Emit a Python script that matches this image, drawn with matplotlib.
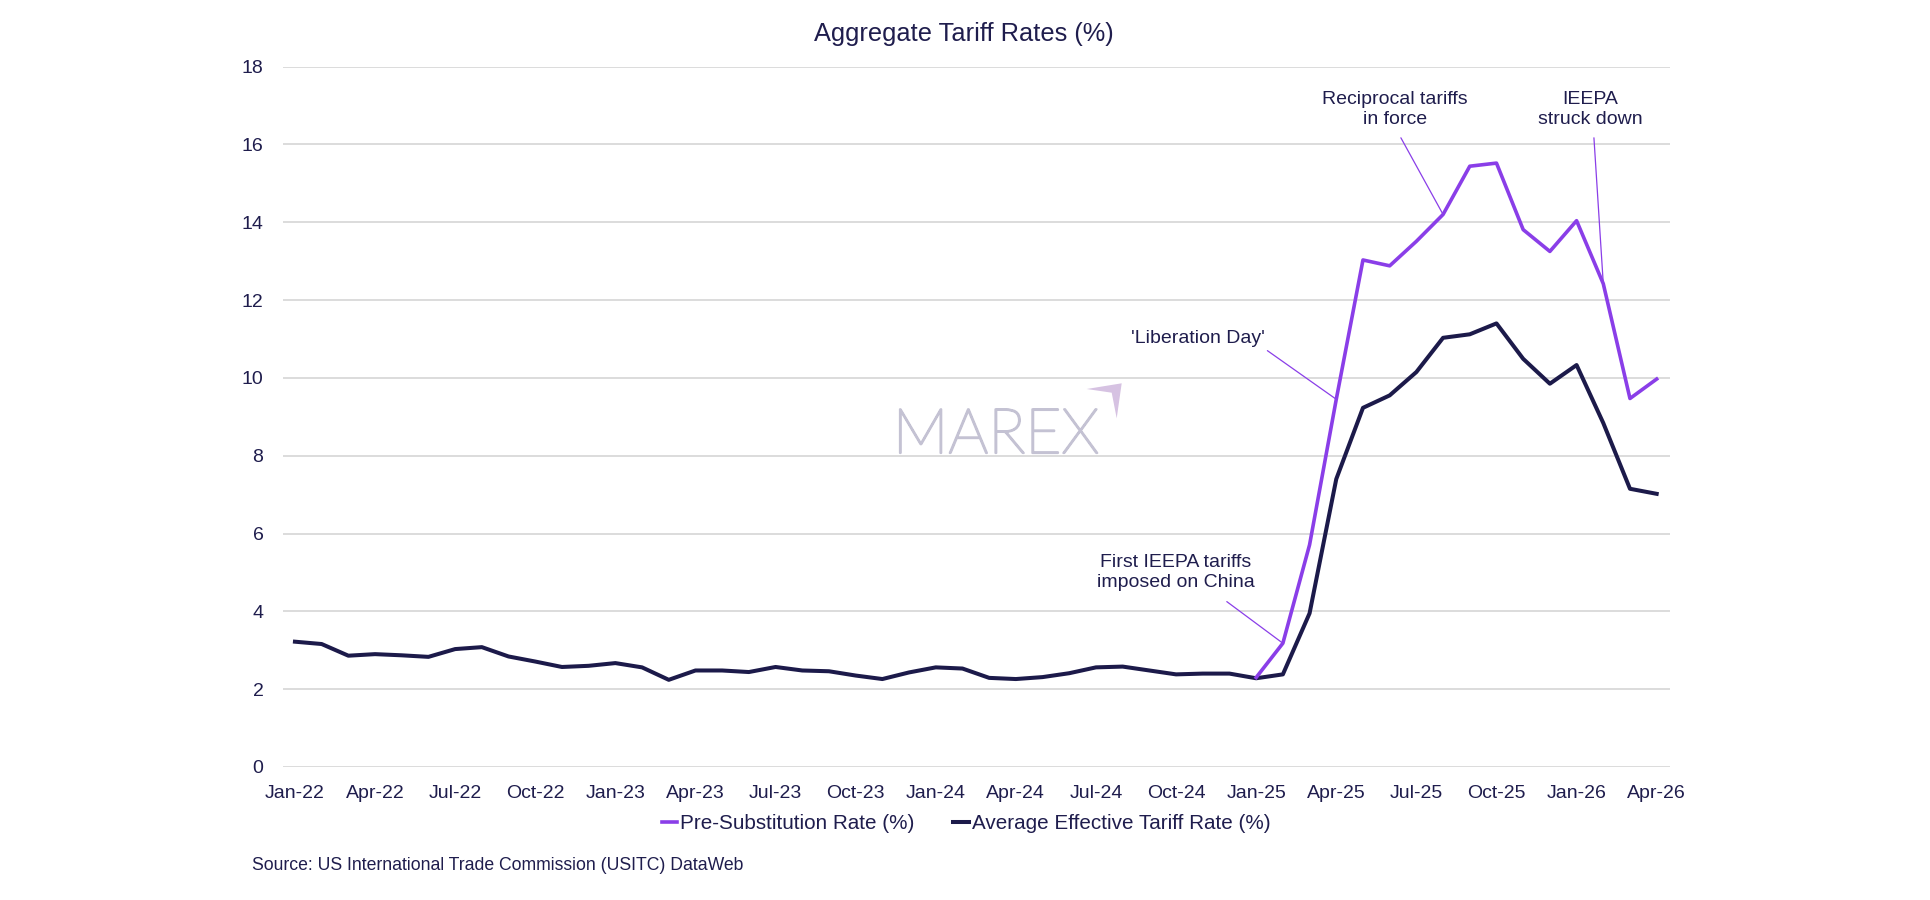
import matplotlib.pyplot as plt
import matplotlib.patheffects as pe
from matplotlib.patches import Polygon

plt.rcParams['font.family'] = ['Liberation Sans', 'DejaVu Sans']

# Monthly data, Jan-22 .. Apr-26
tick_labels = ['Jan-22', 'Apr-22', 'Jul-22', 'Oct-22', 'Jan-23', 'Apr-23', 'Jul-23', 'Oct-23',
               'Jan-24', 'Apr-24', 'Jul-24', 'Oct-24', 'Jan-25', 'Apr-25', 'Jul-25', 'Oct-25',
               'Jan-26', 'Apr-26']

effective_rate = [3.22, 3.16, 2.86, 2.90, 2.87, 2.83, 3.03, 3.08, 2.84, 2.71, 2.57, 2.60,
                  2.67, 2.56, 2.24, 2.48, 2.48, 2.44, 2.57, 2.48, 2.46, 2.35, 2.26, 2.43,
                  2.56, 2.53, 2.29, 2.26, 2.31, 2.41, 2.56, 2.58, 2.48, 2.38, 2.40, 2.40,
                  2.28, 2.38, 3.95, 7.40, 9.23, 9.55, 10.15, 11.03, 11.12, 11.40, 10.49, 9.85,
                  10.33, 8.84, 7.15, 7.02]

# Pre-substitution series starts in Jan-25
pre_sub_start = 36
pre_sub_rate = [2.30, 3.18, 5.71, 9.45, 13.03, 12.88, 13.51, 14.20, 15.44, 15.52, 13.81, 13.25,
                14.04, 12.42, 9.47, 9.97]

months = list(range(len(effective_rate)))
pre_months = months[pre_sub_start:pre_sub_start + len(pre_sub_rate)]

navy = '#1c1a4a'
purple = '#8a3ee8'
text_col = '#1f1d4d'

fig = plt.figure(figsize=(19.3, 9), dpi=100)
ax = fig.add_axes([0.1466, 0.1478, 0.7187, 0.7782])

ax.plot(pre_months, pre_sub_rate, color=purple, lw=2.6, label='Pre-Substitution Rate (%)', zorder=3)
ax.plot(months, effective_rate, color=navy, lw=2.9, label='Average Effective Tariff Rate (%)', zorder=2)

ax.set_ylim(0, 18)
ax.set_yticks(range(0, 19, 2))
ax.set_xlim(-0.45, 51.5)
ax.set_xticks(months[::3])
ax.set_xticklabels(tick_labels)
ax.tick_params(length=0, labelsize=14, colors=text_col)
ax.tick_params(axis='x', pad=13)
ax.tick_params(axis='y', pad=14)
ax.yaxis.grid(True, color='#d9d9d9', lw=1.3)
ax.set_axisbelow(True)
for s in ax.spines.values():
    s.set_visible(False)

# annotations: text at (tx, ty), connector from (lx, ly) to a point of the purple line
def note(txt, tx, ty, lx, ly, idx):
    i = idx - pre_sub_start
    ax.text(tx, ty, txt, ha='center', va='center', fontsize=14, color=text_col, linespacing=1.21)
    ax.annotate('', xy=(pre_months[i], pre_sub_rate[i]), xytext=(lx, ly),
                arrowprops=dict(arrowstyle='-', color=purple, lw=0.9, shrinkA=0, shrinkB=0))

note('Reciprocal tariffs\nin force', 41.2, 16.90, 41.42, 16.17, 43)
note('IEEPA\nstruck down', 48.52, 16.90, 48.65, 16.17, 49)
note("'Liberation Day'", 33.82, 11.0, 36.42, 10.70, 39)
note('First IEEPA tariffs\nimposed on China', 32.99, 4.99, 34.9, 4.25, 37)

fig.text(0.4995, 1 - 34.5 / 900, 'Aggregate Tariff Rates (%)', ha='center', va='center',
         fontsize=18.3, color=text_col)

fig.legend(loc='center', bbox_to_anchor=(0.5005, 1 - 823.5 / 900), ncol=2, frameon=False,
           fontsize=14.9, handlelength=0.75, handletextpad=0.12, columnspacing=1.9,
           labelcolor=text_col)

fig.text(252 / 1930, 1 - 865 / 900, 'Source: US International Trade Commission (USITC) DataWeb',
         ha='left', va='center', fontsize=12.7, color=text_col)

# MAREX watermark
mark_col = '#c4c2d3'
fig.text(996 / 1930, 1 - 453 / 900, 'MAREX', ha='center', va='baseline', fontsize=45,
         family=['Lato', 'DejaVu Sans'], fontweight='light', color=mark_col, zorder=0,
         path_effects=[pe.withStroke(linewidth=1.6, foreground=mark_col)])
arrow_px = [(1086.7, 389), (1121.7, 383.3), (1116.7, 418.3), (1111.7, 392.7)]
fig.patches.append(Polygon([(x / 1930, 1 - y / 900) for x, y in arrow_px], closed=True,
                           transform=fig.transFigure, facecolor='#d6c2e2', edgecolor='none'))

fig.savefig('out.png', dpi=100)
